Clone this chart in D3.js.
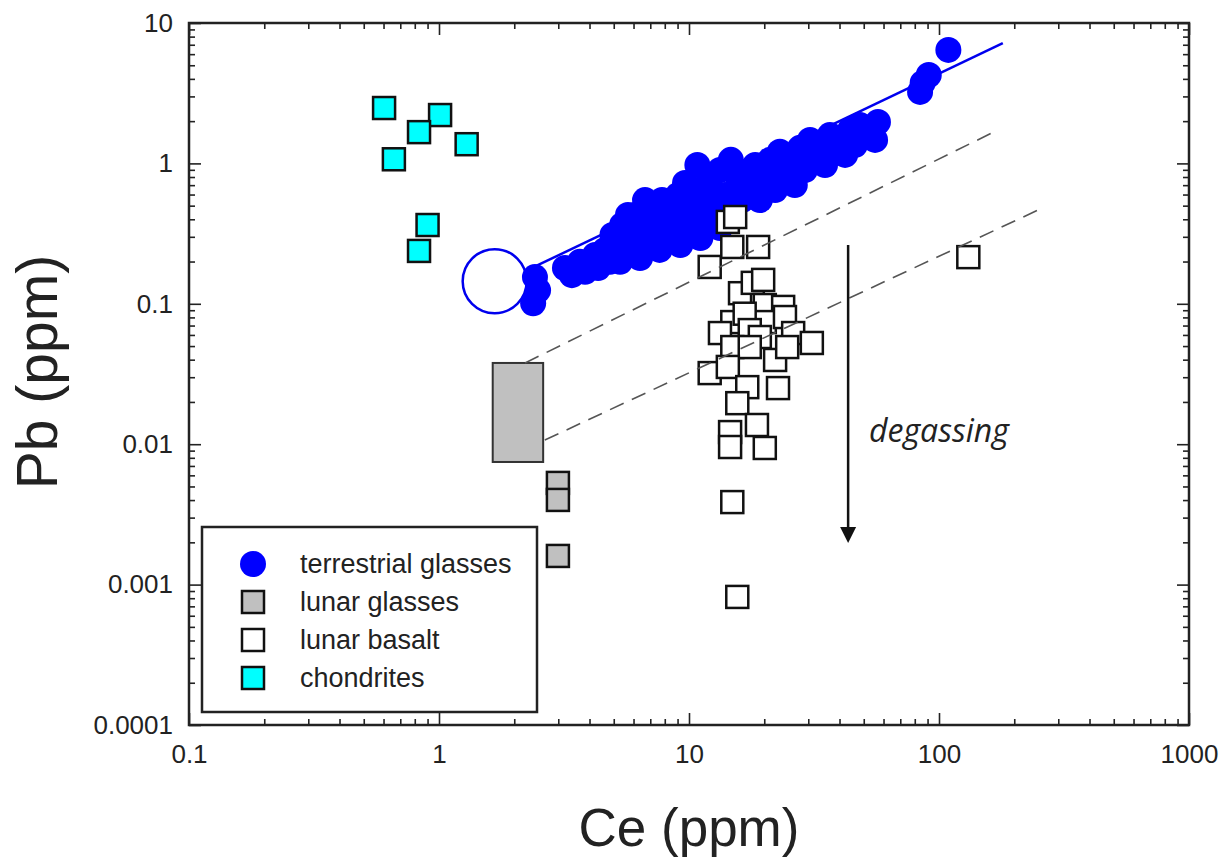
<html>
<head>
    <script type="text/javascript" src="https://cdnjs.cloudflare.com/ajax/libs/d3/7.8.5/d3.min.js"></script>
    <style>
        body { margin: 0; background: #fff; }
        text { font-family: "Liberation Sans", Arial, sans-serif; fill: #222; }
    </style>
</head>
<body>
    <div id="viz"></div>
    <script type="text/javascript">

    // tick labels
    var xTickLabels = [0.1, 1, 10, 100, 1000];
    var yTickLabels = [0.0001, 0.001, 0.01, 0.1, 1, 10];

    // [Ce, Pb] in ppm
    var terrestrialGlasses = [
        [2.42,0.155],[2.38,0.101],[2.49,0.125],
        [3.19,0.180],[3.40,0.160],[3.66,0.199],[3.84,0.169],
        [4.21,0.223],[4.33,0.180],[4.61,0.242],[4.83,0.199],
        [5.06,0.285],[5.30,0.223],[5.40,0.364],[5.70,0.262],
        [5.30,0.199],[6.37,0.212],[7.63,0.242],[9.23,0.262],
        [11.1,0.294],[13.3,0.347],[5.70,0.429],[6.67,0.548],[4.94,0.309],
        [6.08,0.429],[6.37,0.324],[6.49,0.242],[6.85,0.481],
        [7.31,0.364],[7.52,0.271],[7.80,0.548],[8.24,0.429],
        [8.55,0.309],[9.04,0.596],[9.38,0.395],[9.64,0.725],
        [10.1,0.506],[10.6,0.336],[10.8,0.975],[11.1,0.647],
        [11.6,0.429],[12.1,0.762],[12.4,0.548],[12.7,0.364],
        [13.3,0.897],[13.9,0.596],[14.3,0.466],[14.7,1.06],
        [15.7,0.702],[16.3,0.548],[16.7,0.869],[17.5,0.647],
        [18.4,0.975],[19.2,0.548],[20.1,0.762],[21.1,1.06],
        [22.1,0.647],[23.1,1.21],[24.2,0.827],[25.4,1.06],
        [26.5,0.702],[27.8,1.29],[29.1,0.897],[30.5,1.47],
        [31.9,1.06],[33.4,1.35],[35.0,0.975],[36.6,1.59],
        [38.4,1.25],[40.2,1.47],[42.1,1.15],[44.1,1.73],
        [46.1,1.35],[48.3,1.88],[50.6,1.59],[53.0,1.79],[55.5,1.47],[57.0,1.97],
        [84,3.23],[86,3.74],[91,4.26],[109,6.43]
    ];
    var lunarGlassRange = [[1.64,0.00747],[2.61,0.0379]];
    var lunarGlasses = [[2.99,0.0053],[2.99,0.00401],[2.99,0.0016]];
    var lunarBasalt = [
        [14.3,0.383],[15.3,0.415],[14.9,0.254],[18.9,0.254],[12.1,0.183],
        [16.0,0.119],[18.0,0.141],[19.8,0.148],[20.1,0.098],[23.8,0.095],
        [14.9,0.0741],[20.1,0.0741],[24.2,0.0805],[16.7,0.085],[13.3,0.0619],
        [26.1,0.0619],[17.5,0.065],[19.2,0.058],[14.9,0.0492],[17.5,0.0492],
        [22.1,0.0398],[24.7,0.0492],[31.0,0.0526],[12.1,0.0321],[14.3,0.0355],
        [17.1,0.0255],[22.7,0.0251],[15.6,0.0196],[18.7,0.0137],[14.6,0.0122],
        [14.6,0.00955],[20.1,0.0094],[14.9,0.00387],[15.6,0.000817],[131,0.215]
    ];
    var chondrites = [[0.603,2.48],[1.01,2.21],[0.832,1.67],[1.29,1.37],[0.66,1.07],[0.90,0.364],[0.832,0.238]];
    var pristine = [1.67, 0.145];
    var trendLine = [[2.2,0.17],[180,7.2]];
    var degassingLines = [
        [[2.21,0.0379],[172,1.73]],
        [[2.65,0.0107],[254,0.473]]
    ];
    var degassingArrow = [[43.3,0.262],[43.3,0.00198]];
    var legendItems = ["terrestrial glasses", "lunar glasses", "lunar basalt", "chondrites"];

    var svg = d3.select("#viz")
        .append("svg")
        .attr("width", 1224)
        .attr("height", 857);

    var x = d3.scaleLog().domain([0.1, 1000]).range([189, 1189]);
    var y = d3.scaleLog().domain([0.0001, 10]).range([725, 23]);

    var xMinor = x.ticks().filter(d => xTickLabels.indexOf(d) < 0);
    var yMinor = y.ticks().filter(d => yTickLabels.indexOf(+d.toPrecision(3)) < 0);

    function axisStyle(g) {
        g.select(".domain").remove();
        g.selectAll("line").attr("stroke", "#222").attr("stroke-width", 1.6);
        g.selectAll("text").style("font-size", "26px").style("fill", "#222");
    }

    // bottom
    svg.append("g").attr("transform", "translate(0,725)")
        .call(d3.axisBottom(x).tickValues(xMinor).tickSize(-6).tickFormat("")).call(axisStyle);
    svg.append("g").attr("transform", "translate(0,725)")
        .call(d3.axisBottom(x).tickValues(xTickLabels).tickSize(-12).tickPadding(20).tickFormat(d => String(d))).call(axisStyle);
    // top
    svg.append("g").attr("transform", "translate(0,23)")
        .call(d3.axisTop(x).tickValues(xMinor).tickSize(-6).tickFormat("")).call(axisStyle);
    svg.append("g").attr("transform", "translate(0,23)")
        .call(d3.axisTop(x).tickValues(xTickLabels).tickSize(-12).tickFormat("")).call(axisStyle);
    // left
    svg.append("g").attr("transform", "translate(189,0)")
        .call(d3.axisLeft(y).tickValues(yMinor).tickSize(-6).tickFormat("")).call(axisStyle);
    svg.append("g").attr("transform", "translate(189,0)")
        .call(d3.axisLeft(y).tickValues(yTickLabels).tickSize(-12).tickPadding(16).tickFormat(d => String(d))).call(axisStyle);
    // right
    svg.append("g").attr("transform", "translate(1189,0)")
        .call(d3.axisRight(y).tickValues(yMinor).tickSize(-6).tickFormat("")).call(axisStyle);
    svg.append("g").attr("transform", "translate(1189,0)")
        .call(d3.axisRight(y).tickValues(yTickLabels).tickSize(-12).tickFormat("")).call(axisStyle);

    svg.append("rect")
        .attr("x", 189).attr("y", 23).attr("width", 1000).attr("height", 702)
        .style("fill", "none").style("stroke", "#222").style("stroke-width", 2.5);

    // axis titles
    svg.append("text")
        .attr("x", 689).attr("y", 846)
        .attr("text-anchor", "middle")
        .style("font-size", "53px")
        .text("Ce (ppm)");
    svg.append("text")
        .attr("transform", "translate(57,372) rotate(-90)")
        .attr("text-anchor", "middle")
        .style("font-size", "57px")
        .text("Pb (ppm)");

    // pristine mantle circle
    svg.append("circle")
        .attr("cx", x(pristine[0])).attr("cy", y(pristine[1])).attr("r", 32)
        .style("fill", "none").style("stroke", "#0000ee").style("stroke-width", 2.5);

    var line = d3.line().x(d => x(d[0])).y(d => y(d[1]));

    svg.append("path").datum(trendLine)
        .attr("d", line)
        .style("fill", "none").style("stroke", "#0000ee").style("stroke-width", 2.5);

    svg.selectAll(".terr").data(terrestrialGlasses).enter().append("circle")
        .attr("cx", d => x(d[0])).attr("cy", d => y(d[1])).attr("r", 13)
        .style("fill", "#0000ff");

    // lunar glass range box
    svg.append("rect")
        .attr("x", x(lunarGlassRange[0][0]))
        .attr("y", y(lunarGlassRange[1][1]))
        .attr("width", x(lunarGlassRange[1][0]) - x(lunarGlassRange[0][0]))
        .attr("height", y(lunarGlassRange[0][1]) - y(lunarGlassRange[1][1]))
        .style("fill", "#c0c0c0").style("stroke", "#333").style("stroke-width", 2);

    function squares(data, fill, cls) {
        svg.selectAll("." + cls).data(data).enter().append("rect")
            .attr("x", d => x(d[0]) - 11).attr("y", d => y(d[1]) - 11)
            .attr("width", 22).attr("height", 22)
            .style("fill", fill).style("stroke", "#111").style("stroke-width", 2.5);
    }
    squares(lunarGlasses, "#c0c0c0", "lg");
    squares(lunarBasalt, "#ffffff", "lb");
    squares(chondrites, "#00ffff", "ch");

    svg.selectAll(".dl").data(degassingLines).enter().append("path")
        .attr("d", line)
        .style("fill", "none").style("stroke", "#555")
        .style("stroke-width", 1.6).style("stroke-dasharray", "15,9");

    // degassing arrow
    svg.append("line")
        .attr("x1", x(degassingArrow[0][0])).attr("y1", y(degassingArrow[0][1]))
        .attr("x2", x(degassingArrow[1][0])).attr("y2", y(degassingArrow[1][1]) - 12)
        .style("stroke", "#111").style("stroke-width", 2.5);
    var ax = x(degassingArrow[1][0]), ay = y(degassingArrow[1][1]);
    svg.append("path")
        .attr("d", "M" + (ax - 8) + "," + (ay - 16) + "L" + (ax + 8) + "," + (ay - 16) + "L" + ax + "," + ay + "Z")
        .style("fill", "#111");
    svg.append("text")
        .attr("x", 869).attr("y", 442)
        .style("font-family", "'Open Sans', sans-serif")
        .style("font-style", "italic")
        .style("font-size", "32px")
        .text("degassing");

    // legend
    var legend = svg.append("g");
    legend.append("rect")
        .attr("x", 202).attr("y", 527).attr("width", 335).attr("height", 185)
        .style("fill", "#fff").style("stroke", "#222").style("stroke-width", 2.5);
    legend.append("circle").attr("cx", 253).attr("cy", 564).attr("r", 13).style("fill", "#0000ff");
    var legendFills = [null, "#c0c0c0", "#ffffff", "#00ffff"];
    legendItems.forEach(function(name, i) {
        var cy = 564 + i * 38;
        if (i > 0) {
            legend.append("rect")
                .attr("x", 242).attr("y", cy - 11).attr("width", 22).attr("height", 22)
                .style("fill", legendFills[i]).style("stroke", "#111").style("stroke-width", 2.5);
        }
        legend.append("text")
            .attr("x", 300).attr("y", cy).attr("dy", "0.35em")
            .style("font-size", "27px")
            .text(name);
    });

    </script>
</body>
</html>
